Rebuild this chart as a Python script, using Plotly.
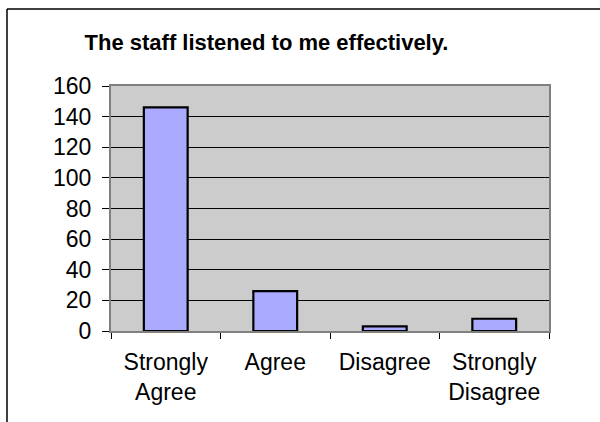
import plotly.graph_objects as go

# Survey responses
categories = ["Strongly<br>Agree", "Agree", "Disagree", "Strongly<br>Disagree"]
counts = [146, 26, 3, 8]
y_ticks = [0, 20, 40, 60, 80, 100, 120, 140, 160]

W, H = 600, 422
ML, MR, MT, MB = 111, 51, 86, 91
pw = W - ML - MR
ph = H - MT - MB

fig = go.Figure(
    go.Bar(
        x=categories,
        y=counts,
        width=0.4,
        marker=dict(color="#AAAAFF", line=dict(color="#000000", width=2.2)),
        hoverinfo="x+y",
    )
)

# outer chart frame (left and top edges visible, the rest runs off the page)
fx0 = (7 - ML) / pw
fy1 = (H - MB - 9) / ph
fig.add_shape(type="line", xref="paper", yref="paper",
              x0=fx0, x1=fx0, y0=fy1, y1=-2,
              line=dict(color="#000000", width=1.5))
fig.add_shape(type="line", xref="paper", yref="paper",
              x0=fx0, x1=2, y0=fy1, y1=fy1,
              line=dict(color="#000000", width=1.5))

fig.update_layout(
    width=W,
    height=H,
    margin=dict(l=ML, r=MR, t=MT, b=MB, pad=0),
    paper_bgcolor="#FFFFFF",
    plot_bgcolor="#CCCCCC",
    showlegend=False,
    font=dict(family="Liberation Sans, Arial, sans-serif", color="#000000"),
    title=dict(
        text="<b>The staff listened to me effectively.</b>",
        font=dict(size=22, color="#000000"),
        xref="container", yref="container",
        x=266.5 / W, xanchor="center",
        y=1 - 42.5 / H, yanchor="middle",
    ),
    xaxis=dict(
        type="category",
        tickson="boundaries",
        ticks="outside",
        ticklen=6,
        tickcolor="#000000",
        tickwidth=1,
        tickfont=dict(size=23),
        ticklabelstandoff=9,
        showline=True,
        mirror=True,
        linecolor="#808080",
        linewidth=2,
        showgrid=False,
        fixedrange=True,
    ),
    yaxis=dict(
        range=[0, 160],
        tickvals=y_ticks,
        ticks="outside",
        ticklen=7,
        tickcolor="#000000",
        tickwidth=1,
        tickfont=dict(size=23),
        ticklabelstandoff=6,
        showline=True,
        mirror=True,
        linecolor="#808080",
        linewidth=2,
        showgrid=True,
        gridcolor="#000000",
        gridwidth=1,
        zeroline=False,
        fixedrange=True,
    ),
)

fig.write_html("out.html")
